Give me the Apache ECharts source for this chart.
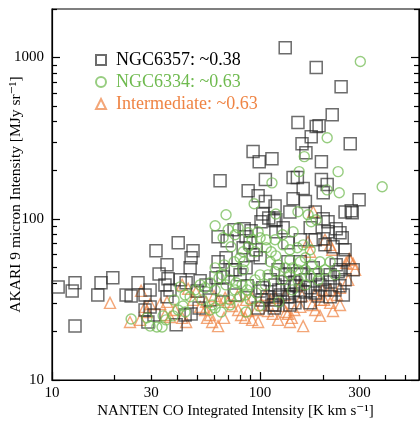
<!DOCTYPE html>
<html>
<head>
<meta charset="utf-8">
<script src="https://cdn.jsdelivr.net/npm/echarts@6/dist/echarts.min.js"></script>
<style>
  html, body { margin: 0; padding: 0; background: #fff; }
  #chart { width: 420px; height: 422px; }
</style>
</head>
<body>
<div id="chart"></div>
<script>
// [CO integrated intensity (K km/s), 9 micron intensity (MJy/sr)]
const ngc6357 = [
  [132, 1150], [186, 867], [245, 660], [222, 442], [152, 395], [186, 373], [192, 378],
  [176, 323], [159, 292], [271, 292], [166, 257], [92.5, 261], [99, 226], [114, 236],
  [197, 226], [64.2, 172], [106, 175], [144, 180], [151, 180], [161, 154], [197, 175],
  [210, 163], [87.6, 149], [97.8, 139], [201, 145], [144, 133], [165, 128], [106, 128],
  [118, 120], [299, 131], [256, 110], [274, 112], [139, 110], [184, 110], [103, 107],
  [110, 101], [119, 98.6], [101, 95.8], [117, 97.2], [129, 88], [174, 88], [201, 100],
  [212, 95.8], [212, 83.1], [232, 86.7], [242, 81.9], [248, 76.2], [201, 75.1], [277, 109],
  [62.8, 77.3], [69.4, 73], [75, 85.5], [83.8, 86.7], [85.6, 77.3], [90.5, 84.3],
  [82.9, 66.1], [89.5, 70.9], [92.5, 59.8], [95.7, 64.2], [100, 57.3], [119, 83.1],
  [136, 70.9], [156, 74.1], [184, 74.1], [205, 68.9], [224, 67], [256, 64.2],
  [31.6, 63.3], [40.4, 70.9], [47.6, 63.3], [46.6, 57.3], [35.7, 51.8], [46.1, 49.6],
  [32.7, 45.5], [36.1, 42.4], [51.5, 41.2], [61.4, 43], [66.4, 43.6], [62.8, 54.1],
  [68.6, 57.3], [73.3, 48.2], [85.6, 49.6], [25.9, 40.1], [19.6, 43], [17.2, 40.1],
  [12.9, 40.1], [12.5, 35.7], [10.7, 37.8], [16.6, 33.7], [22.7, 33.7], [24, 33.2],
  [29.6, 36.2], [28, 33.7], [34.9, 38.9], [36.9, 36.2], [35.7, 32.8], [28, 27.2],
  [29.6, 28.4], [30.9, 25.3], [28.9, 22.9], [39.5, 22], [46.6, 25.7], [43.6, 25.3],
  [50.9, 28], [55, 38.9], [49.8, 35.7], [12.9, 21.6], [57.5, 31.4], [65.7, 36.2],
  [75.8, 33.7], [86.6, 38.4], [100, 35.7], [102, 31.4],
  [112, 41.8], [118, 38.9], [128, 36.2], [139, 40.1], [149, 38.4], [156, 36.2],
  [165, 41.8], [174, 37.3], [184, 34.7], [194, 38.9], [205, 36.2], [217, 40.6],
  [229, 36.2], [242, 38.4], [251, 33.7], [217, 32.8], [190, 33.2], [156, 33.2],
  [135, 32.8], [119, 31.4], [108, 32.8], [103, 37.3], [132, 44.9], [156, 44.9],
  [184, 44.9], [217, 44.9], [237, 46.9], [256, 41.8], [118, 29.2], [138, 32.8],
  [123, 36.2], [232, 51.8], [251, 55.6], [242, 48.2], [114, 29.2], [97.8, 28],
  [117, 28], [139, 29.2], [147, 30.1], [174, 30.1], [76, 48.2], [80.1, 44.9],
  [41.3, 41.8], [44.1, 40.1], [165, 35.2], [199, 41.8], [147, 40.6], [125, 33.7],
  [180, 49.6], [156, 54.1], [136, 54.1], [122, 48.2], [280, 48.2]
];
const ngc6334 = [
  [303, 944], [210, 318], [163, 243], [154, 196], [237, 196], [114, 167], [386, 158],
  [210, 151], [240, 145], [93.6, 124], [119, 107], [152, 110.5], [170, 106], [176, 95.8],
  [186, 98.6], [68.6, 106], [60.8, 90.5], [70.2, 85.5], [78.4, 88], [75.8, 79.6],
  [87.6, 81.9], [91.5, 74.1], [107, 74.1], [118, 74.1], [128, 79.6], [144, 83.1],
  [97.8, 83.1], [100, 76.2], [66.4, 76.2], [72.5, 67], [82.9, 62.4], [87.6, 67],
  [94.6, 62.4], [107, 66.1], [113, 62.4], [119, 58.9], [129, 68.9], [139, 64.2],
  [151, 66.1], [161, 68.9], [174, 64.2], [139, 55.6], [156, 54.1], [165, 57.3],
  [112, 54.1], [122, 51.8], [132, 49.6], [143, 49.6], [152, 48.2], [165, 48.2],
  [178, 51.8], [194, 54.1], [190, 46.9], [80.1, 57.3], [83.8, 54.1], [67.1, 51.8],
  [60.8, 49.6], [65.7, 44.9], [63.5, 43], [71.7, 41.8], [76.7, 40.1], [81.9, 38.9],
  [51.5, 38.9], [54.4, 37.3], [57.5, 40.1], [60.8, 36.2], [48.7, 36.2], [46.1, 32.8],
  [41.3, 37.8], [43.6, 33.7], [38.6, 31.4], [40.4, 27.2], [38.2, 25], [42.6, 28.8],
  [34.2, 25], [33.8, 21.3], [29.6, 21.6], [31.9, 21.3], [24, 23.9], [28.6, 24.3],
  [35.3, 23.6], [52.6, 31.4], [58.8, 29.2], [64.2, 31.4], [71.7, 31.4], [80.1, 32.8],
  [86.6, 36.2], [57.5, 27.2], [60.8, 28], [64.9, 26.4], [89.5, 31.4], [95.7, 34.7],
  [99, 28.8], [106, 38.9], [109, 44.9], [118, 46.9], [128, 41.8], [139, 44.9],
  [152, 41.8], [165, 38.9], [174, 44.3], [190, 41.8], [205, 48.2], [217, 54.1],
  [229, 44.9], [123, 30.5], [143, 36.2], [85.6, 26.4], [71.7, 29.2], [43.6, 26.4],
  [100, 44.9], [75, 54.1], [82.9, 48.2], [68.6, 38.9], [75.8, 36.2], [89.5, 38.9],
  [94.6, 41.8], [85.1, 33.7]
];
const intermediate = [
  [19, 30.1], [23.7, 22.9], [26.8, 35.7], [28, 28.4], [28.6, 26.4], [33.1, 29.6],
  [35.7, 30.5], [36.9, 24.6], [44.1, 22.9], [42.2, 24.3], [42.2, 38.9], [45.1, 36.8],
  [49.2, 35.2], [47.6, 31.4], [51.5, 28.4], [54.4, 27.2], [55.6, 24.3], [58.8, 22.9],
  [62.8, 21.6], [57.5, 25.3], [60.1, 33.2], [62.8, 31.4], [70.2, 30.5], [73.3, 28.8],
  [78.4, 27.2], [81, 25.3], [84.7, 24.3], [87.6, 26.8], [67.1, 24.3], [95.7, 27.2],
  [102, 29.2], [109, 26.8], [115, 25.7], [119, 32.3], [128, 28.8], [136, 25.7],
  [146, 27.2], [156, 28.4], [161, 21.6], [133, 26.4], [142, 24.3], [178, 29.2],
  [184, 27.2], [194, 25], [203, 31.4], [217, 30.1], [224, 26.8], [234, 33.7],
  [242, 37.3], [265, 41.8], [268, 56.4], [259, 53.3], [280, 52.5], [286, 48.2],
  [180, 110.5], [170, 72], [217, 68.9], [174, 62.4], [242, 29.2], [199, 36.2],
  [184, 33.7], [159, 33.2], [106, 33.7], [112, 31.4], [91.5, 32.3], [85.6, 31.4],
  [77.8, 33.2], [67.9, 32.3], [55, 30.5], [39, 27.2], [34.9, 25.3], [29.6, 29.6],
  [26.5, 23.6], [91.5, 23.6], [97.8, 22.9], [122, 23.6], [139, 22.9], [132, 33.7],
  [156, 38.9], [194, 31.4], [217, 36.2], [205, 74.1], [222, 64.2], [271, 55.6]
];

const xLabels = [10, 30, 100, 300];
const xMajorTicks = [10, 100];
const xMinorTicks = [20, 30, 40, 50, 60, 70, 80, 90, 200, 300, 400, 500];
const yLabels = [10, 100, 1000];
const yMajorTicks = [10, 100, 1000];
const yMinorTicks = [20, 30, 40, 50, 60, 70, 80, 90, 200, 300, 400, 500, 600, 700, 800, 900, 2000];

const FONT = '"Liberation Serif", "DejaVu Serif", serif';
const xMin = 10, xMax = 580, yMin = 10, yMax = 2000;

// plain numbers, no thousands separator
function plain(v) { return String(Math.round(v)); }

function xAxisDef(ticks, len, labels, showLine) {
  return {
    type: 'log', logBase: 10, min: xMin, max: xMax, position: 'bottom',
    axisLine: { show: showLine, lineStyle: { color: '#000', width: 1.2 } },
    axisTick: { show: true, inside: true, length: len, customValues: ticks, lineStyle: { color: '#000', width: 1.2 } },
    axisLabel: labels ? { show: true, customValues: labels, formatter: plain, color: '#000', fontFamily: FONT, fontSize: 15, margin: 6 } : { show: false },
    splitLine: { show: false },
    minorTick: { show: false }
  };
}
function yAxisDef(pos, ticks, len, labels, showLine) {
  return {
    type: 'log', logBase: 10, min: yMin, max: yMax, position: pos,
    axisLine: { show: showLine, lineStyle: { color: '#000', width: 1.2 } },
    axisTick: { show: true, inside: true, length: len, customValues: ticks, lineStyle: { color: '#000', width: 1.2 } },
    axisLabel: labels ? { show: true, customValues: labels, formatter: plain, color: '#000', fontFamily: FONT, fontSize: 15, margin: 8 } : { show: false },
    splitLine: { show: false },
    minorTick: { show: false }
  };
}

const xMain = xAxisDef(xMajorTicks, 8, xLabels, true);
xMain.name = 'NANTEN CO Integrated Intensity [K km s\u207B\u00B9]';
xMain.nameLocation = 'middle';
xMain.nameGap = 24;
xMain.nameMoveOverlap = false;
xMain.nameTextStyle = { color: '#000', fontFamily: FONT, fontSize: 15 };

const yMain = yAxisDef('left', yMajorTicks, 8, yLabels, true);
yMain.name = 'AKARI 9 micron Intensity [MJy sr\u207B\u00B9]';
yMain.nameLocation = 'middle';
yMain.nameGap = 28;
yMain.nameRotate = 90;
yMain.nameMoveOverlap = false;
yMain.nameTextStyle = { color: '#000', fontFamily: FONT, fontSize: 15.5 };

const chart = echarts.init(document.getElementById('chart'));
chart.setOption({
  animation: false,
  backgroundColor: '#fff',
  grid: {
    left: 52, right: 1, top: 9, bottom: 42,
    show: true, borderColor: '#000', borderWidth: 1.2,
    containLabel: false, outerBoundsMode: 'none'
  },
  legend: {
    orient: 'vertical', left: 95, top: 51, padding: 0,
    itemWidth: 10, itemHeight: 10, itemGap: 4,
    textStyle: { fontFamily: FONT, fontSize: 18, padding: [0, 0, 0, 5] },
    data: [
      { name: 'NGC6357: ~0.38', textStyle: { color: '#000' } },
      { name: 'NGC6334: ~0.63', textStyle: { color: '#6fba4f' } },
      { name: 'Intermediate: ~0.63', textStyle: { color: '#ef8444' } }
    ]
  },
  xAxis: [xMain, xAxisDef(xMinorTicks, 5, null, false)],
  yAxis: [
    yMain,
    yAxisDef('left', yMinorTicks, 5, null, false),
    yAxisDef('right', yMajorTicks, 8, null, true),
    yAxisDef('right', yMinorTicks, 5, null, false)
  ],
  series: [
    {
      name: 'Intermediate: ~0.63', type: 'scatter', symbol: 'triangle', symbolSize: 11,
      xAxisIndex: 0, yAxisIndex: 0, data: intermediate,
      itemStyle: { color: 'rgba(0,0,0,0)', borderColor: 'rgba(239,132,68,0.9)', borderWidth: 1.4 }
    },
    {
      name: 'NGC6357: ~0.38', type: 'scatter', symbol: 'rect', symbolSize: 12,
      xAxisIndex: 0, yAxisIndex: 0, data: ngc6357,
      itemStyle: { color: 'rgba(0,0,0,0)', borderColor: 'rgba(40,40,40,0.85)', borderWidth: 1.5 }
    },
    {
      name: 'NGC6334: ~0.63', type: 'scatter', symbol: 'circle', symbolSize: 10,
      xAxisIndex: 0, yAxisIndex: 0, data: ngc6334,
      itemStyle: { color: 'rgba(0,0,0,0)', borderColor: 'rgba(111,186,79,0.9)', borderWidth: 1.4 }
    }
  ]
});
</script>
</body>
</html>
